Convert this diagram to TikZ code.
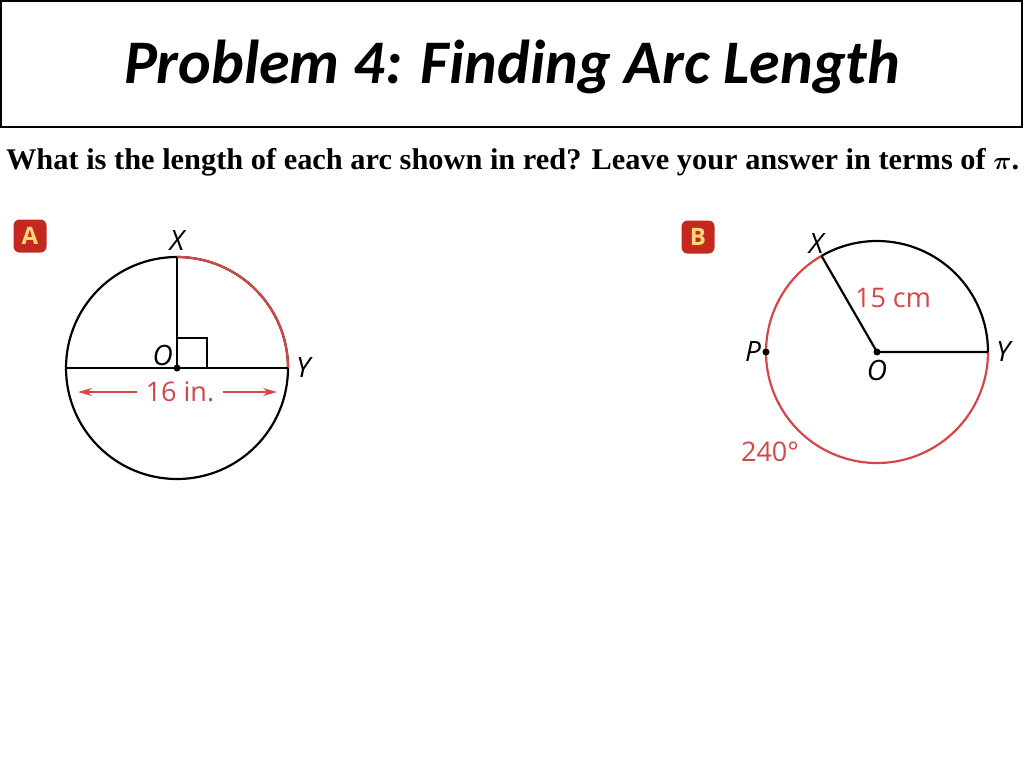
\documentclass[tikz,border=0pt]{standalone}
\usepackage{amsmath}
\usepackage{fontspec}
\usepackage{graphicx}
\usetikzlibrary{positioning,arrows.meta,calc}
\setmainfont{Liberation Serif}
\newfontfamily\titlefont{Carlito}
\newfontfamily\labelfont{Open Sans}
\definecolor{arcred}{RGB}{214,70,70}
\definecolor{badgered}{RGB}{196,40,30}
\definecolor{badgetext}{RGB}{255,214,120}

\begin{document}
\begin{tikzpicture}[x=1pt,y=-1pt,line width=2.2pt,
    badge/.style={fill=badgered,rounded corners=6pt,minimum size=33pt,inner sep=0pt,text=badgetext,font=\labelfont\fontsize{24}{24}\selectfont\bfseries},
    pt label/.style={inner sep=1pt,font=\labelfont\itshape\fontsize{28}{28}\selectfont},
    red label/.style={inner sep=1pt,text=arcred,font=\labelfont\fontsize{27}{27}\selectfont},
    dot/.style={circle,fill=black,inner sep=0pt,minimum size=7pt}]
    \useasboundingbox (0,0) rectangle (1024,768);
    % title
    \draw[line width=2pt] (1,1) rectangle (1022,127);
    \node (title) at (512,67) {\titlefont\fontsize{62}{62}\selectfont\bfseries\itshape Problem 4: Finding Arc Length};
    \node[anchor=base west,inner sep=0pt] (question) at (5,169) {\resizebox{1013pt}{\height}{\fontsize{30}{30}\selectfont\bfseries What is the length of each arc shown in red? Leave your answer in terms of $\boldsymbol{\pi}$.}};

    % part A
    \node[badge] (badgeA) at (30,236) {A};
    \coordinate (OA) at (177,368);
    \coordinate (XA) at (177,257);
    \coordinate (YA) at (288,368);
    \coordinate (WA) at (66,368);
    \draw (OA) circle (111);
    \draw[arcred] (XA) arc (-90:0:111);
    \draw (XA) -- (OA);
    \draw (WA) -- (YA);
    \draw[line width=1.6pt] ([yshift=30pt]OA) -| ([xshift=30pt]OA);
    \node[dot] (cA) at (OA) {};
    \node[pt label,above=4pt of XA] (labXA) {X};
    \node[pt label,above left=0pt and 2pt of OA] (labOA) {O};
    \node[pt label,right=6pt of YA] (labYA) {Y};
    \node[red label,inner xsep=8pt] (dimA) at (180,392) {16 in.};
    \coordinate (dimAl) at (78,392);
    \coordinate (dimAr) at (277,392);
    \draw[arcred,line width=1.8pt,-{Stealth[length=14pt,width=8pt]}] (dimA.west) -- (dimAl);
    \draw[arcred,line width=1.8pt,-{Stealth[length=14pt,width=8pt]}] (dimA.east) -- (dimAr);

    % part B
    \node[badge] (badgeB) at (698,237) {B};
    \coordinate (OB) at (877,352);
    \coordinate (XB) at ($(OB)+(-120:111)$);
    \coordinate (YB) at (988,352);
    \coordinate (PB) at (766,352);
    \draw (YB) arc (0:-120:111);
    \draw[arcred] (XB) arc (-120:-360:111);
    \draw (XB) -- (OB) -- (YB);
    \node[dot] (cB) at (OB) {};
    \node[dot] (dotP) at (PB) {};
    \node[pt label,above left=0pt and -4pt of XB] (labXB) {X};
    \node[pt label,left=3pt of PB] (labPB) {P};
    \node[pt label,below=6pt of OB] (labOB) {O};
    \node[pt label,right=6pt of YB] (labYB) {Y};
    \node[red label] (radB) at (893,298) {15 cm};
    \node[red label] (angB) at (770,452) {240\textdegree};
\end{tikzpicture}
\end{document}
